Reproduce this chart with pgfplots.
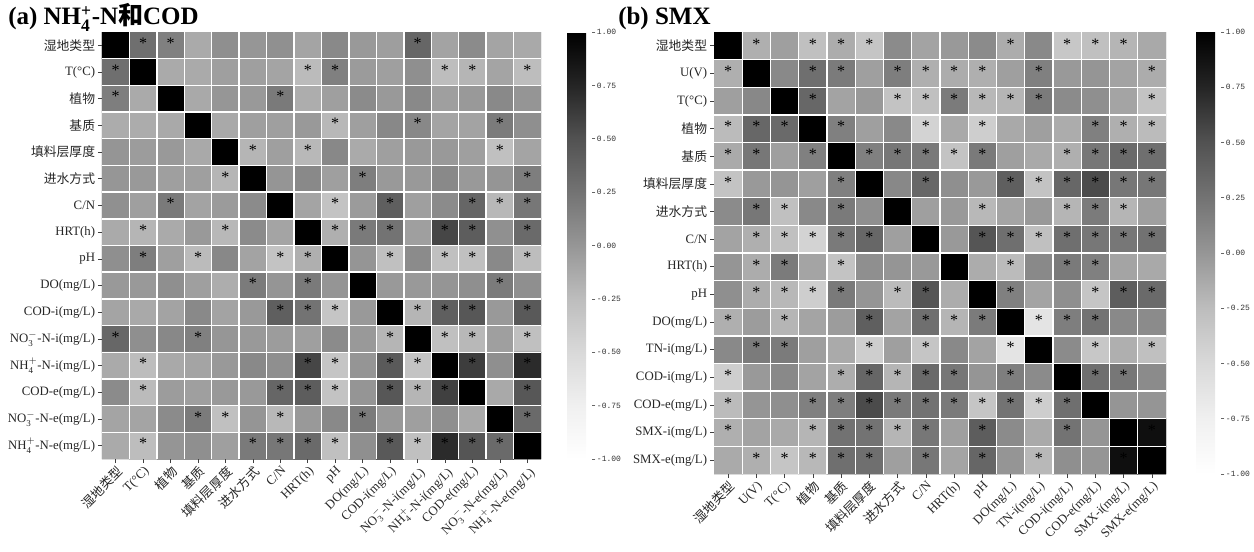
\documentclass[border=0pt]{standalone}
\usepackage{fontspec}
\setmainfont{Liberation Serif}
\setmonofont{Liberation Mono}
\newfontfamily\cjk{Noto Sans CJK SC}
\usepackage{amsmath}
\usepackage{pgfplots}
\pgfplotsset{compat=1.18}
\pgfplotsset{
  colormap={greys}{rgb255=(255,255,255) rgb255=(240,240,240) rgb255=(217,217,217) rgb255=(189,189,189) rgb255=(150,150,150) rgb255=(115,115,115) rgb255=(82,82,82) rgb255=(37,37,37) rgb255=(0,0,0)},
  hm/.style={
    scale only axis, enlargelimits=false,
    xmin=-0.5,xmax=15.5,ymin=-0.5,ymax=15.5, y dir=reverse,
    xtick={0,...,15}, ytick={0,...,15},
    minor xtick={0.5,1.5,...,14.5}, minor ytick={0.5,1.5,...,14.5},
    xminorgrids=true, yminorgrids=true,
    minor grid style={white, line width=1.1pt},
    minor tick length=0pt, major tick length=3pt,
    tick align=outside, xtick pos=bottom, ytick pos=left,
    tick style={black!75, line width=0.5pt},
    axis line style={draw=none},
    axis on top,
    point meta min=-1, point meta max=1,
    ticklabel style={font=\fontsize{9.6}{11}\selectfont, text=black!85},
    xticklabel style={rotate=45, anchor=north east, inner sep=1pt},
    yticklabel style={inner sep=2pt},
  },
  cb/.style={
    scale only axis, xmin=0,xmax=1,ymin=0,ymax=1,
    xtick=\empty, ytick=\empty, axis line style={draw=none},
    point meta min=-1, point meta max=1,
    colorbar,
    colorbar style={
      scale only axis,
      width=18.75pt,
      at={(parent axis.north east)}, anchor=north west, xshift=#1,
      y dir=normal, ymin=-1, ymax=1,
      ytick={-1,-0.75,-0.5,-0.25,0,0.25,0.5,0.75,1},
      yticklabels={-1.00,-0.75,-0.50,-0.25,0.00,0.25,0.50,0.75,1.00},
      yticklabel style={font=\ttfamily\fontsize{6}{7}\selectfont, text=black!80, inner sep=1pt},
      axis line style={draw=none},
      tick align=outside, ytick pos=right, yticklabel pos=right,
      major tick length=2.5pt,
      tick style={black!60, line width=0.4pt},
    },
  },
  stars/.style={only marks, mark=none, nodes near coords={*},
    every node near coord/.style={anchor=center, inner sep=0pt,
      font=\fontsize{12}{12}\selectfont, text=black, yshift=1.5pt}},
}
\begin{document}
\begin{tikzpicture}
\useasboundingbox (0,0) rectangle (940.5pt,413.25pt);

\node[anchor=base west, font=\bfseries\fontsize{18.75}{20}\selectfont, inner sep=0pt] at (6pt,394.5pt) {(a) NH$_{\text{4}}^{\text{+}}$-N{\cjk 和}COD};
\node[anchor=base west, font=\bfseries\fontsize{18.75}{20}\selectfont, inner sep=0pt] at (463.5pt,394.5pt) {(b) SMX};

% ---------------- (a) ----------------
\begin{axis}[hm, at={(76.5pt,69pt)}, anchor=south west, width=329.25pt, height=320.25pt,
  xticklabels={{\cjk 湿地类型},T(°C),{\cjk 植物},{\cjk 基质},{\cjk 填料层厚度},{\cjk 进水方式},C/N,HRT(h),pH,DO(mg/L),COD-i(mg/L),NO$_{\text{3}}^{-}$-N-i(mg/L),NH$_{\text{4}}^{+}$-N-i(mg/L),COD-e(mg/L),NO$_{\text{3}}^{-}$-N-e(mg/L),NH$_{\text{4}}^{+}$-N-e(mg/L)},
  yticklabels={{\cjk 湿地类型},T(°C),{\cjk 植物},{\cjk 基质},{\cjk 填料层厚度},{\cjk 进水方式},C/N,HRT(h),pH,DO(mg/L),COD-i(mg/L),NO$_{\text{3}}^{-}$-N-i(mg/L),NH$_{\text{4}}^{+}$-N-i(mg/L),COD-e(mg/L),NO$_{\text{3}}^{-}$-N-e(mg/L),NH$_{\text{4}}^{+}$-N-e(mg/L)},
]
\addplot[matrix plot*, mesh/cols=16, point meta=explicit]
 table[row sep=\\, x expr={\coordindex-16*floor((\coordindex+0.5)/16)}, y expr={floor((\coordindex+0.5)/16)}, meta index=0] {
1\\ 0.28\\ 0.16\\ -0.13\\ 0.05\\ 0.0\\ 0.04\\ -0.09\\ 0.09\\ -0.02\\ -0.05\\ 0.35\\ -0.08\\ 0.08\\ -0.09\\ -0.12\\
0.28\\ 1\\ -0.13\\ -0.13\\ -0.06\\ -0.06\\ -0.09\\ -0.24\\ 0.16\\ -0.03\\ -0.06\\ 0.05\\ -0.25\\ -0.2\\ -0.09\\ -0.25\\
0.17\\ -0.13\\ 1\\ -0.12\\ 0.0\\ -0.02\\ 0.2\\ -0.15\\ -0.06\\ 0.08\\ -0.02\\ 0.09\\ -0.06\\ -0.02\\ 0.09\\ 0.01\\
-0.14\\ -0.14\\ -0.12\\ 1\\ -0.12\\ -0.06\\ -0.06\\ -0.02\\ -0.22\\ -0.06\\ 0.1\\ 0.1\\ -0.09\\ -0.08\\ 0.19\\ 0.05\\
0.01\\ -0.04\\ -0.02\\ -0.12\\ 1\\ -0.2\\ -0.06\\ -0.22\\ 0.1\\ -0.13\\ -0.06\\ -0.02\\ -0.02\\ -0.06\\ -0.28\\ -0.09\\
0.0\\ -0.02\\ -0.06\\ -0.06\\ -0.2\\ 1\\ 0.01\\ 0.09\\ -0.06\\ 0.17\\ -0.02\\ -0.02\\ 0.09\\ -0.02\\ 0.01\\ 0.17\\
0.04\\ -0.06\\ 0.2\\ -0.08\\ -0.03\\ 0.08\\ 1\\ -0.09\\ -0.3\\ -0.03\\ 0.4\\ -0.06\\ 0.08\\ 0.35\\ -0.22\\ 0.22\\
-0.13\\ -0.2\\ -0.13\\ -0.02\\ -0.22\\ 0.08\\ -0.09\\ 1\\ -0.16\\ 0.2\\ 0.25\\ -0.06\\ 0.57\\ 0.42\\ 0.04\\ 0.32\\
0.05\\ 0.17\\ -0.06\\ -0.24\\ 0.1\\ -0.08\\ -0.3\\ -0.16\\ 1\\ 0.01\\ -0.28\\ 0.08\\ -0.28\\ -0.28\\ 0.09\\ -0.25\\
-0.02\\ -0.02\\ 0.05\\ -0.06\\ -0.15\\ 0.19\\ 0.01\\ 0.2\\ 0.01\\ 1\\ -0.02\\ -0.02\\ 0.01\\ 0.05\\ 0.19\\ 0.05\\
-0.09\\ -0.12\\ -0.08\\ 0.09\\ -0.08\\ -0.02\\ 0.4\\ 0.25\\ -0.32\\ -0.02\\ 1\\ -0.2\\ 0.4\\ 0.46\\ -0.02\\ 0.45\\
0.34\\ 0.05\\ 0.1\\ 0.16\\ 0.0\\ -0.02\\ -0.04\\ -0.06\\ 0.08\\ -0.02\\ -0.2\\ 1\\ -0.28\\ -0.22\\ -0.06\\ -0.28\\
-0.13\\ -0.25\\ -0.12\\ -0.09\\ -0.02\\ 0.09\\ 0.05\\ 0.57\\ -0.32\\ 0.01\\ 0.44\\ -0.3\\ 1\\ 0.62\\ 0.05\\ 0.72\\
0.08\\ -0.24\\ -0.04\\ -0.06\\ -0.02\\ -0.02\\ 0.35\\ 0.42\\ -0.3\\ 0.01\\ 0.46\\ -0.2\\ 0.6\\ 1\\ -0.12\\ 0.46\\
-0.09\\ -0.09\\ 0.08\\ 0.19\\ -0.28\\ 0.01\\ -0.22\\ -0.02\\ 0.09\\ 0.19\\ -0.02\\ -0.06\\ 0.05\\ -0.12\\ 1\\ 0.32\\
-0.13\\ -0.25\\ 0.01\\ 0.05\\ -0.06\\ 0.2\\ 0.22\\ 0.32\\ -0.28\\ 0.05\\ 0.45\\ -0.28\\ 0.72\\ 0.48\\ 0.32\\ 1\\
};
\addplot[stars] coordinates {
(1,0)(2,0)(11,0)
(0,1)(7,1)(8,1)(12,1)(13,1)(15,1)
(0,2)(6,2)
(8,3)(11,3)(14,3)
(5,4)(7,4)(14,4)
(4,5)(9,5)(15,5)
(2,6)(8,6)(10,6)(13,6)(14,6)(15,6)
(1,7)(4,7)(8,7)(9,7)(10,7)(12,7)(13,7)(15,7)
(1,8)(3,8)(6,8)(7,8)(10,8)(12,8)(13,8)(15,8)
(5,9)(7,9)(14,9)
(6,10)(7,10)(8,10)(11,10)(12,10)(13,10)(15,10)
(0,11)(3,11)(10,11)(12,11)(13,11)(15,11)
(1,12)(7,12)(8,12)(10,12)(11,12)(13,12)(15,12)
(1,13)(6,13)(7,13)(8,13)(10,13)(11,13)(12,13)(15,13)
(3,14)(4,14)(6,14)(9,14)(15,14)
(1,15)(5,15)(6,15)(7,15)(8,15)(10,15)(11,15)(12,15)(13,15)(14,15)
};
\end{axis}
\begin{axis}[cb=11pt, at={(76.5pt,69pt)}, anchor=south west, width=329.25pt, height=320.25pt]
\end{axis}

% ---------------- (b) ----------------
\begin{axis}[hm, at={(535.5pt,57.75pt)}, anchor=south west, width=339pt, height=331.5pt,
  xticklabels={{\cjk 湿地类型},U(V),T(°C),{\cjk 植物},{\cjk 基质},{\cjk 填料层厚度},{\cjk 进水方式},C/N,HRT(h),pH,DO(mg/L),TN-i(mg/L),COD-i(mg/L),COD-e(mg/L),SMX-i(mg/L),SMX-e(mg/L)},
  yticklabels={{\cjk 湿地类型},U(V),T(°C),{\cjk 植物},{\cjk 基质},{\cjk 填料层厚度},{\cjk 进水方式},C/N,HRT(h),pH,DO(mg/L),TN-i(mg/L),COD-i(mg/L),COD-e(mg/L),SMX-i(mg/L),SMX-e(mg/L)},
]
\addplot[matrix plot*, mesh/cols=16, point meta=explicit]
 table[row sep=\\, x expr={\coordindex-16*floor((\coordindex+0.5)/16)}, y expr={floor((\coordindex+0.5)/16)}, meta index=0] {
1\\ -0.16\\ -0.06\\ -0.28\\ -0.14\\ -0.32\\ 0.08\\ -0.08\\ -0.02\\ 0.08\\ -0.14\\ 0.09\\ -0.34\\ -0.28\\ -0.2\\ -0.12\\
-0.16\\ 1\\ 0.09\\ 0.28\\ 0.19\\ -0.06\\ 0.17\\ -0.16\\ -0.14\\ -0.16\\ -0.06\\ 0.16\\ -0.02\\ 0.01\\ -0.08\\ -0.14\\
-0.06\\ 0.1\\ 1\\ 0.34\\ -0.08\\ -0.02\\ -0.3\\ -0.28\\ 0.19\\ -0.22\\ -0.2\\ 0.19\\ 0.08\\ 0.05\\ -0.09\\ -0.3\\
-0.24\\ 0.34\\ 0.32\\ 1\\ 0.16\\ -0.06\\ 0.09\\ -0.45\\ -0.12\\ -0.4\\ -0.12\\ -0.06\\ -0.14\\ 0.16\\ -0.16\\ -0.24\\
-0.13\\ 0.22\\ -0.06\\ 0.16\\ 1\\ 0.16\\ 0.22\\ 0.2\\ -0.3\\ 0.2\\ -0.06\\ -0.12\\ -0.16\\ 0.22\\ 0.32\\ 0.28\\
-0.3\\ -0.02\\ 0.01\\ -0.06\\ 0.16\\ 1\\ 0.1\\ 0.34\\ 0.05\\ -0.02\\ 0.4\\ -0.3\\ 0.34\\ 0.54\\ 0.22\\ 0.22\\
0.08\\ 0.22\\ -0.28\\ 0.09\\ 0.2\\ 0.05\\ 1\\ -0.06\\ -0.02\\ -0.22\\ -0.09\\ -0.02\\ -0.2\\ 0.19\\ -0.2\\ -0.06\\
-0.08\\ -0.16\\ -0.28\\ -0.45\\ 0.2\\ 0.34\\ -0.06\\ 1\\ -0.02\\ 0.48\\ 0.28\\ -0.28\\ 0.28\\ 0.22\\ 0.22\\ 0.26\\
0.01\\ -0.14\\ 0.19\\ -0.09\\ -0.3\\ 0.05\\ 0.01\\ -0.02\\ 1\\ -0.14\\ -0.24\\ 0.09\\ 0.2\\ 0.16\\ -0.09\\ -0.12\\
0.05\\ -0.14\\ -0.22\\ -0.4\\ 0.2\\ 0.01\\ -0.24\\ 0.48\\ -0.14\\ 1\\ 0.16\\ -0.08\\ 0.05\\ -0.32\\ 0.42\\ 0.32\\
-0.16\\ -0.04\\ -0.2\\ -0.09\\ -0.04\\ 0.4\\ -0.08\\ 0.28\\ -0.2\\ 0.19\\ 1\\ -0.62\\ 0.17\\ 0.25\\ 0.09\\ 0.08\\
0.09\\ 0.19\\ 0.19\\ -0.06\\ -0.13\\ -0.4\\ -0.06\\ -0.32\\ 0.09\\ -0.08\\ -0.62\\ 1\\ 0.08\\ -0.34\\ -0.16\\ -0.28\\
-0.4\\ -0.02\\ 0.09\\ -0.08\\ -0.15\\ 0.35\\ -0.2\\ 0.32\\ 0.22\\ 0.01\\ 0.17\\ 0.08\\ 1\\ 0.28\\ 0.22\\ 0.08\\
-0.24\\ 0.01\\ 0.05\\ 0.16\\ 0.17\\ 0.54\\ 0.2\\ 0.26\\ 0.2\\ -0.32\\ 0.25\\ -0.4\\ 0.28\\ 1\\ 0.01\\ 0.01\\
-0.16\\ -0.08\\ -0.12\\ -0.2\\ 0.26\\ 0.25\\ -0.2\\ 0.22\\ -0.06\\ 0.42\\ 0.08\\ -0.13\\ 0.25\\ 0.01\\ 1\\ 0.9\\
-0.13\\ -0.16\\ -0.32\\ -0.22\\ 0.28\\ 0.28\\ -0.06\\ 0.22\\ -0.09\\ 0.35\\ 0.01\\ -0.22\\ 0.05\\ 0.01\\ 0.9\\ 1\\
};
\addplot[stars] coordinates {
(1,0)(3,0)(4,0)(5,0)(10,0)(12,0)(13,0)(14,0)
(0,1)(3,1)(4,1)(6,1)(7,1)(8,1)(9,1)(11,1)(15,1)
(3,2)(6,2)(7,2)(8,2)(9,2)(10,2)(11,2)(15,2)
(0,3)(1,3)(2,3)(4,3)(7,3)(9,3)(13,3)(14,3)(15,3)
(0,4)(1,4)(3,4)(5,4)(6,4)(7,4)(8,4)(9,4)(12,4)(13,4)(14,4)(15,4)
(0,5)(4,5)(7,5)(10,5)(11,5)(12,5)(13,5)(14,5)(15,5)
(1,6)(2,6)(4,6)(9,6)(12,6)(13,6)(14,6)
(1,7)(2,7)(3,7)(4,7)(5,7)(9,7)(10,7)(11,7)(12,7)(13,7)(14,7)(15,7)
(1,8)(2,8)(4,8)(10,8)(12,8)(13,8)
(1,9)(2,9)(3,9)(4,9)(6,9)(7,9)(10,9)(13,9)(14,9)(15,9)
(0,10)(2,10)(5,10)(7,10)(8,10)(9,10)(11,10)(12,10)(13,10)
(1,11)(2,11)(5,11)(7,11)(10,11)(13,11)(15,11)
(0,12)(4,12)(5,12)(6,12)(7,12)(8,12)(10,12)(13,12)(14,12)
(0,13)(3,13)(4,13)(5,13)(6,13)(7,13)(8,13)(9,13)(10,13)(11,13)(12,13)
(0,14)(3,14)(4,14)(5,14)(6,14)(7,14)(9,14)(12,14)(15,14)
(1,15)(2,15)(3,15)(4,15)(5,15)(7,15)(9,15)(11,15)(14,15)
};
\end{axis}
\begin{axis}[cb=14pt, at={(535.5pt,57.75pt)}, anchor=south west, width=339pt, height=331.5pt]
\end{axis}
\end{tikzpicture}
\end{document}
